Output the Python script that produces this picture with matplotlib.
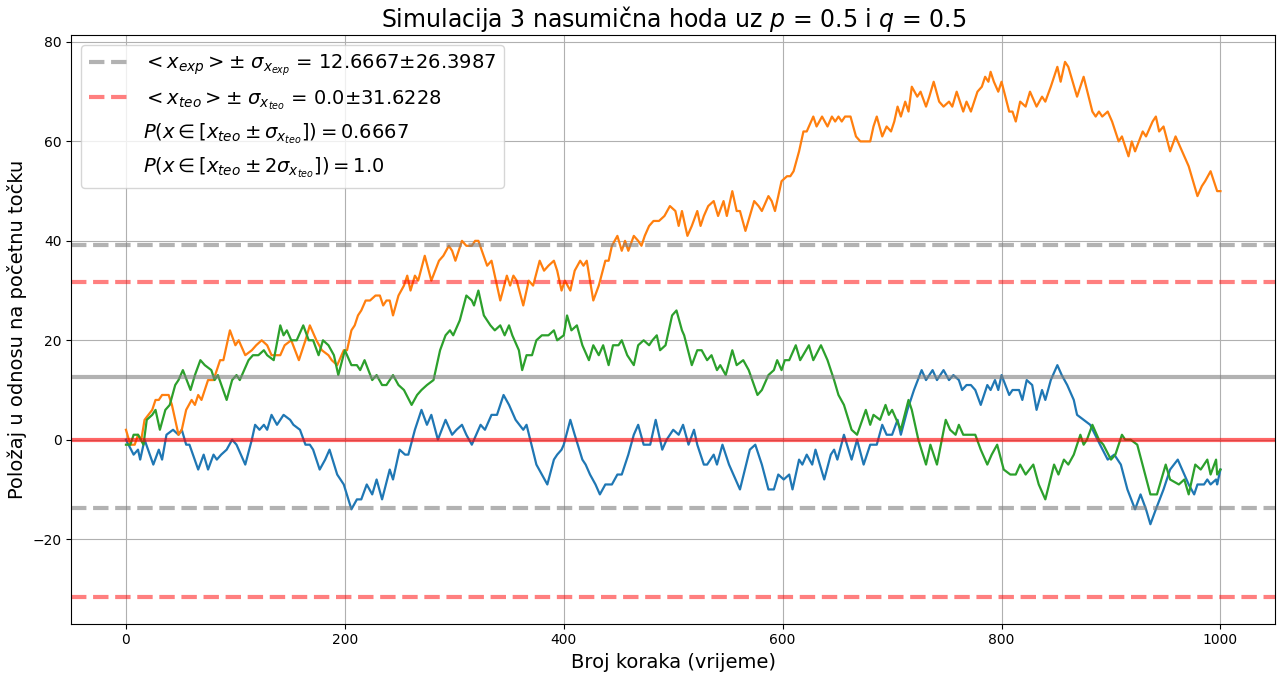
import matplotlib
matplotlib.use("Agg")
import matplotlib.pyplot as plt

# ---- data ----
blue_pts = [(0,0),(7,-3),(11,-2),(13,-4),(17,0),(25,-5),(30,-2),(33,-4),(37,1),(43,2),(48,1),(51,2),(55,-1),(58,-1),(66,-6),(71,-3),(75,-6),(80,-3),(83,-4),(87,-3),(92,-2),(97,0),(101,-1),(109,-5),(115,0),(118,3),(122,2),(126,3),(129,2),(133,5),(138,3),(144,5),(150,4),(153,3),(159,2),(164,-1),(168,-1),(171,-2),(177,-6),(182,-4),(186,-2),(193,-7),(199,-9),(206,-14),(211,-12),(215,-12),(220,-9),(225,-11),(229,-8),(234,-12),(241,-6),(244,-8),(250,-2),(255,-3),(258,-3),(264,2),(270,6),(275,3),(279,5),(285,0),(292,4),(298,1),(302,2),(307,3),(311,1),(316,-1),(324,3),(328,2),(334,5),(339,5),(345,9),(350,7),(356,4),(363,2),(366,3),(375,-5),(385,-9),(391,-4),(394,-3),(398,-2),(400,-1),(406,4),(410,1),(417,-4),(420,-5),(424,-7),(429,-9),(433,-11),(438,-9),(444,-9),(449,-7),(453,-7),(459,-3),(464,1),(468,3),(473,-1),(479,-1),(484,4),(490,-2),(494,0),(500,2),(505,1),(509,3),(514,-1),(519,2),(522,-1),(528,-5),(531,-5),(534,-4),(537,-3),(540,-5),(545,-1),(551,-5),(557,-8),(561,-10),(570,-2),(575,-1),(581,-5),(587,-10),(592,-10),(596,-7),(601,-8),(606,-7),(609,-10),(615,-4),(618,-5),(622,-3),(627,-5),(630,-2),(638,-8),(644,-3),(647,-2),(650,-4),(656,1),(663,-4),(668,0),(674,-5),(680,-1),(686,-1),(691,3),(695,1),(700,1),(705,4),(708,1),(714,6),(720,10),(727,14),(731,12),(737,14),(741,12),(747,14),(752,12),(756,13),(761,12),(764,10),(768,11),(772,11),(776,10),(781,7),(787,11),(790,10),(794,12),(797,10),(800,13),(807,9),(810,10),(816,10),(819,8),(823,12),(828,11),(832,6),(837,10),(840,8),(845,12),(851,15),(855,13),(860,11),(866,8),(869,5),(875,4),(881,3),(890,-1),(897,-4),(903,-3),(909,-5),(915,-10),(922,-14),(927,-11),(932,-14),(936,-17),(941,-14),(948,-10),(954,-6),(961,-4),(967,-7),(971,-9),(976,-11),(979,-9),(985,-9),(988,-8),(991,-9),(996,-8),(997,-9),(1000,-6)]

orange_pts = [(0,2),(4,-1),(8,-1),(11,1),(14,0),(17,4),(24,6),(27,8),(30,8),(33,9),(39,9),(42,7),(48,1),(51,2),(55,6),(60,8),(63,7),(66,9),(69,8),(75,12),(80,12),(86,16),(89,16),(95,22),(100,19),(103,20),(109,17),(115,18),(119,19),(124,20),(129,19),(133,17),(141,17),(145,19),(151,20),(158,16),(164,20),(168,23),(174,20),(179,18),(185,17),(188,16),(193,15),(199,18),(202,18),(206,22),(209,23),(212,25),(215,26),(219,28),(223,28),(228,29),(232,29),(235,27),(238,28),(241,28),(244,25),(249,29),(254,31),(257,33),(260,30),(264,33),(267,32),(273,37),(279,32),(286,36),(290,37),(295,39),(298,38),(301,36),(307,40),(311,39),(316,39),(319,40),(322,40),(330,35),(334,36),(342,28),(348,33),(351,31),(354,33),(357,32),(363,27),(368,32),(372,31),(378,36),(382,34),(386,35),(391,36),(394,34),(398,30),(401,32),(406,30),(410,34),(415,36),(418,35),(421,36),(427,28),(432,31),(438,36),(441,36),(444,39),(449,41),(453,38),(456,40),(459,38),(464,41),(468,40),(471,39),(474,41),(478,43),(482,44),(487,44),(492,45),(497,47),(502,46),(505,43),(508,46),(513,41),(517,43),(522,46),(525,43),(528,45),(532,47),(537,48),(541,45),(546,48),(549,45),(554,50),(558,46),(561,46),(566,42),(574,48),(578,47),(581,46),(587,49),(590,48),(593,46),(599,52),(604,53),(607,53),(610,54),(615,58),(619,62),(622,62),(628,65),(631,63),(636,65),(641,63),(645,65),(648,64),(651,65),(654,64),(657,65),(662,65),(667,61),(671,60),(677,60),(680,60),(683,63),(686,65),(691,61),(695,63),(699,62),(702,64),(705,67),(708,65),(712,68),(715,66),(718,71),(723,69),(726,70),(731,67),(734,69),(738,72),(743,68),(747,67),(752,68),(755,67),(759,70),(765,66),(768,68),(772,66),(778,70),(782,71),(785,73),(788,72),(790,74),(793,72),(797,70),(800,72),(807,66),(810,66),(813,64),(817,68),(822,67),(826,70),(832,67),(837,69),(840,68),(845,71),(851,75),(854,72),(858,76),(861,75),(869,69),(875,73),(883,66),(886,65),(889,66),(892,65),(897,66),(901,64),(907,60),(910,61),(913,59),(916,57),(919,60),(922,58),(929,62),(932,61),(938,64),(941,65),(944,62),(948,63),(954,58),(959,61),(965,58),(971,55),(979,49),(983,51),(986,52),(991,54),(997,50),(1000,50)]

green_pts = [(0,-1),(4,-1),(7,1),(11,1),(16,-1),(19,4),(24,5),(27,6),(31,2),(36,6),(40,7),(45,11),(48,12),(52,14),(59,10),(63,13),(68,16),(72,15),(78,14),(81,12),(84,13),(92,8),(97,12),(101,13),(104,12),(112,16),(116,17),(121,17),(126,18),(129,17),(135,16),(141,23),(144,21),(147,22),(151,20),(156,20),(162,23),(167,20),(171,20),(176,17),(180,20),(185,19),(190,17),(194,13),(200,18),(206,15),(211,15),(214,14),(218,16),(225,12),(229,13),(234,11),(238,11),(244,13),(249,11),(254,10),(261,7),(266,9),(270,10),(275,11),(281,12),(287,18),(292,21),(296,22),(299,21),(305,24),(311,29),(316,28),(318,27),(322,30),(327,25),(333,23),(337,22),(342,23),(346,21),(350,23),(353,21),(359,18),(362,14),(366,17),(371,17),(375,20),(380,21),(386,21),(391,22),(394,20),(400,21),(403,25),(407,22),(412,23),(417,19),(423,16),(427,19),(432,17),(436,19),(441,15),(445,19),(450,19),(453,20),(458,17),(464,15),(468,19),(473,20),(478,19),(481,20),(485,21),(488,18),(493,19),(499,25),(503,26),(508,22),(510,21),(517,15),(522,18),(526,18),(531,16),(535,17),(540,14),(543,15),(548,13),(554,18),(558,15),(564,16),(569,14),(577,9),(581,10),(587,13),(592,14),(595,16),(599,14),(602,16),(606,16),(612,19),(616,16),(624,19),(628,16),(635,19),(641,16),(647,12),(651,9),(656,7),(663,2),(668,1),(676,6),(680,3),(683,5),(689,4),(694,7),(697,5),(700,6),(708,2),(715,8),(718,6),(724,0),(731,-5),(735,-1),(741,-5),(749,4),(753,2),(758,1),(761,3),(765,1),(776,1),(781,-2),(787,-5),(791,-3),(796,-1),(802,-6),(808,-7),(813,-7),(817,-5),(822,-7),(829,-5),(834,-9),(840,-12),(848,-5),(852,-7),(857,-4),(861,-5),(866,-3),(872,1),(875,-1),(878,0),(883,3),(889,0),(893,-1),(900,-4),(904,-3),(910,1),(913,0),(918,0),(924,-1),(936,-11),(942,-11),(950,-5),(954,-8),(962,-9),(967,-8),(971,-11),(977,-5),(982,-6),(988,-4),(991,-7),(996,-4),(997,-7),(1000,-6)]

x_exp_mean = 12.6667
x_exp_std = 26.3987
x_teo_mean = 0.0
x_teo_std = 31.6228
p_1sigma = 0.6667
p_2sigma = 1.0

title = r'Simulacija 3 nasumična hoda uz $p$ = 0.5 i $q$ = 0.5'
xlabel = 'Broj koraka (vrijeme)'
ylabel = 'Položaj u odnosu na početnu točku'

fig = plt.figure(figsize=(12.79, 6.75), dpi=100)
ax = fig.add_axes([0.0557, 0.076, 0.9413, 0.872])

for pts, c in [(blue_pts, 'C0'), (orange_pts, 'C1'), (green_pts, 'C2')]:
    xs = [p[0] for p in pts]
    ys = [p[1] for p in pts]
    ax.plot(xs, ys, color=c, lw=1.6)

ax.axhline(x_exp_mean, color='gray', alpha=0.6, lw=3)
ax.axhline(x_exp_mean + x_exp_std, color='gray', alpha=0.6, lw=3, ls='--',
           label=r'$<x_{exp}> \pm$ $\sigma_{x_{exp}}$ = ' + f'{x_exp_mean}' + r'$\pm$' + f'{x_exp_std}')
ax.axhline(x_exp_mean - x_exp_std, color='gray', alpha=0.6, lw=3, ls='--')
ax.axhline(x_teo_mean, color='red', alpha=0.6, lw=3)
ax.axhline(x_teo_mean + x_teo_std, color='red', alpha=0.5, lw=3, ls='--',
           label=r'$<x_{teo}> \pm$ $\sigma_{x_{teo}}$ = ' + f'{x_teo_mean}' + r'$\pm$' + f'{x_teo_std}')
ax.axhline(x_teo_mean - x_teo_std, color='red', alpha=0.5, lw=3, ls='--')
ax.plot([], [], ' ', label=r'$P(x \in [x_{teo} \pm \sigma_{x_{teo}}]) = $' + f'{p_1sigma}')
ax.plot([], [], ' ', label=r'$P(x \in [x_{teo} \pm 2\sigma_{x_{teo}}]) = $' + f'{p_2sigma}')

ax.set_xlim(-50, 1050)
ax.grid(True)
ax.set_title(title, fontsize=17)
ax.set_xlabel(xlabel, fontsize=14)
ax.set_ylabel(ylabel, fontsize=14)
ax.legend(loc='upper left', fontsize=14)

fig.savefig('out.png', dpi=100)
